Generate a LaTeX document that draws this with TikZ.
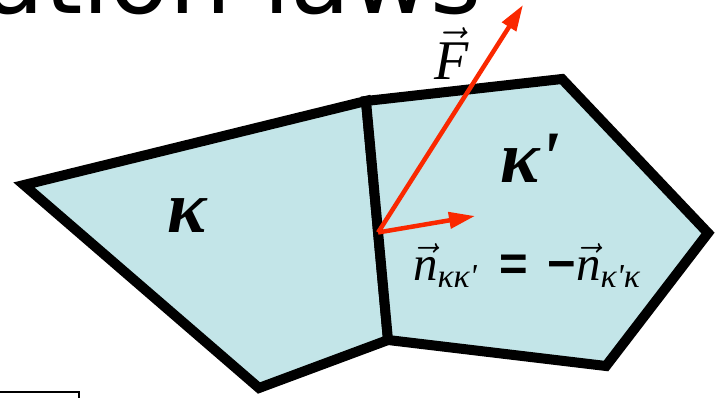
\documentclass[tikz,border=0pt]{standalone}
\usepackage{amsmath,amssymb}
\usepackage{graphicx}
\usepackage{fontspec}
\newfontfamily\titlefont{DejaVu Sans}
\newfontfamily\timesfont{Liberation Serif}
\newfontfamily\signfont{Liberation Sans}
\newcommand{\tnit}{\timesfont\itshape}
\usetikzlibrary{arrows.meta,calc}
\definecolor{cellfill}{RGB}{195,229,232}
\definecolor{vecred}{RGB}{250,40,0}

\begin{document}
\begin{tikzpicture}[x=1pt,y=-1pt,
  cell/.style={draw, line width=10pt, fill=cellfill, line join=miter},
  vec/.style={draw=vecred, line width=4.5pt, -{Triangle[length=26pt,width=16pt]}},
  lab/.style={inner sep=0pt, anchor=base, font=\Huge}
]
\useasboundingbox (0,0) rectangle (720,398);
\clip (0,0) rectangle (720,398);

% corners of the two cells
\coordinate (w) at (24,185);
\coordinate (nt) at (366,101);
\coordinate (ne) at (562,79);
\coordinate (e) at (708,233);
\coordinate (se) at (606,366);
\coordinate (nb) at (388,340);
\coordinate (s) at (259,388);
\coordinate (o) at ($(nt)!0.55!(nb)$);
\coordinate (ftip) at (523,5);
\coordinate (ntip) at (475,216);

\draw[cell] (w) -- (nt) -- (nb) -- (s) -- cycle;
\draw[cell] (nt) -- (ne) -- (e) -- (se) -- (nb) -- cycle;

\draw[vec] (o) -- (ftip);
\draw[vec] (o) -- (ntip);

\node[lab] (k) at (187,233) {\scalebox{2.97}{\timesfont\bfseries\itshape κ}};
\node[lab] (kp) at (530,183) {\scalebox{2.97}{\timesfont\bfseries\itshape κ\textquotesingle}};
\node[lab] (f) at (452,80) {\scalebox{2.25}{$\vec{\text{\tnit F}}$}};
\node[lab] (nlab) at (527,280) {\scalebox{1.97}{%
  $\vec{\text{\tnit n}}_{\text{\fontsize{17}{17}\tnit κκ\textquotesingle}}\hspace{4pt}
   \mathrel{\text{\signfont\bfseries =}}\hspace{3pt} \text{\signfont\bfseries −}\vec{\text{\tnit n}}_{\text{\fontsize{17}{17}\tnit κ\textquotesingle κ}}$}};

% cut-off title and next box
\node[inner sep=0pt, anchor=base west] (title) at (-16,14)
  {\titlefont\fontsize{98}{98}\selectfont ation laws};
\draw[line width=1.5pt] (-10,392) -- (79,392) -- (79,410);
\end{tikzpicture}
\end{document}
